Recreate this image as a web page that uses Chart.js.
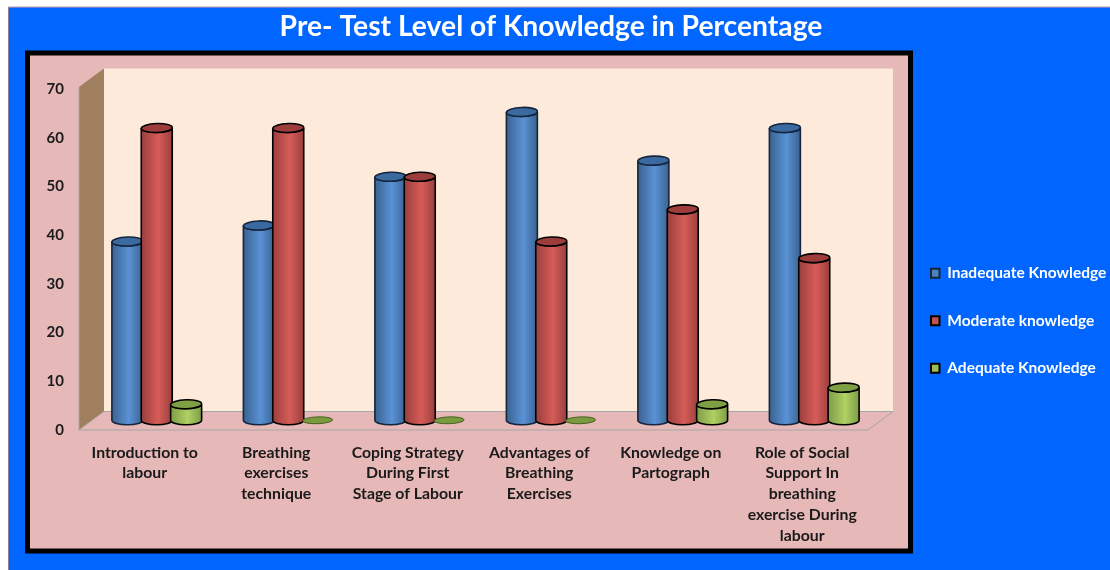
<!DOCTYPE html>
<html>
<head>
<meta charset="utf-8">
<title>Pre- Test Level of Knowledge in Percentage</title>
<style>html,body{margin:0;padding:0;background:#fff;overflow:hidden}canvas{display:block}</style>
<script src="https://cdn.jsdelivr.net/npm/chart.js@4"></script>
</head>
<body>
<canvas id="c" width="1110" height="570"></canvas>
<script>
const categories = [
  ["Introduction to","labour"],
  ["Breathing","exercises","technique"],
  ["Coping Strategy","During First","Stage of Labour"],
  ["Advantages of","Breathing","Exercises"],
  ["Knowledge on","Partograph"],
  ["Role of Social","Support In","breathing","exercise During","labour"]
];
const inadequate = [36.7, 40, 50, 63.3, 53.3, 60];
const moderate   = [60, 60, 50, 36.7, 43.3, 33.3];
const adequate   = [3.3, 0, 0, 0, 3.3, 6.7];
const titleText = "Pre- Test Level of Knowledge in Percentage";

const FONT = "Lato, 'Open Sans', sans-serif";
const depth = {x: 25, y: 18.5};    // full depth of the 3D box
const shift = {x: 12, y: -9.7};    // bars stand half way into the box
const wallRise = 2;                // walls rise slightly above the top tick
const shades = [
  {edge:'#3a6290', mid:'#5a92d6', top:'#3a6aa0', line:'#14253c'},
  {edge:'#9a3f3d', mid:'#d65c58', top:'#9c3d3b', line:'#000000'},
  {edge:'#7f9c47', mid:'#afd164', top:'#7f9f45', line:'#000000'}
];

const scenery = {
  id:'scenery',
  beforeDraw(chart){
    const {ctx, chartArea:a} = chart;
    const top=a.top-wallRise;
    ctx.save();
    ctx.fillStyle='#fff'; ctx.fillRect(0,0,1110,570);
    ctx.fillStyle='#0066ff'; ctx.fillRect(8,7,1102,563);
    ctx.fillStyle='#8f7a98'; ctx.fillRect(8,7,1,563);
    ctx.fillStyle='#c9a0a8'; ctx.fillRect(8,6.5,1102,1);
    // frame
    ctx.fillStyle='#e6b8b7'; ctx.fillRect(27,53,884,498);
    ctx.strokeStyle='#000'; ctx.lineWidth=5; ctx.strokeRect(27.5,53,883,498);
    // back wall
    ctx.fillStyle='#fdeada';
    ctx.fillRect(a.left+depth.x,top-depth.y,a.width,a.bottom-top);
    // side wall
    ctx.fillStyle='#a07f5f';
    ctx.beginPath();
    ctx.moveTo(a.left,top);ctx.lineTo(a.left+depth.x,top-depth.y);
    ctx.lineTo(a.left+depth.x,a.bottom-depth.y);ctx.lineTo(a.left,a.bottom);ctx.closePath();ctx.fill();
    // floor
    ctx.fillStyle='#e6b8b7';
    ctx.beginPath();
    ctx.moveTo(a.left,a.bottom);ctx.lineTo(a.left+depth.x,a.bottom-depth.y);
    ctx.lineTo(a.right+depth.x,a.bottom-depth.y);ctx.lineTo(a.right,a.bottom);ctx.closePath();ctx.fill();
    ctx.strokeStyle='#a6a6a6';ctx.lineWidth=1;ctx.stroke();
    ctx.beginPath();ctx.moveTo(a.left,top);ctx.lineTo(a.left,a.bottom);ctx.stroke();
    ctx.restore();
  },
  afterLayout(chart){
    const t=chart.titleBlock;
    t.right=1102;
    const l=chart.legend;
    const w=l.width,h=l.height;
    l.left=899; l.right=899+w; l.top=233.5; l.bottom=233.5+h;
    l.adjustHitBoxes();
  },
  beforeDatasetsDraw(chart){
    chart.ctx.save();
    chart.ctx.translate(shift.x,shift.y);
  },
  afterDatasetsDraw(chart){
    const {ctx}=chart;
    // cylinders are painted from the bar elements, blue first so the later series overlap it
    chart.data.datasets.forEach((ds,di)=>{
      const s=shades[di];
      chart.getDatasetMeta(di).data.forEach((bar,i)=>{
        const v=ds.data[i];
        const p=bar.getProps(['x','y','base','width'],true);
        const rx=p.width/2+0.8, ry=4.5, tilt=-0.035;
        ctx.save();
        if(v===0){
          ctx.fillStyle='#7b9a40';ctx.strokeStyle='#46601f';ctx.lineWidth=1;
          ctx.beginPath();ctx.ellipse(p.x,p.base,rx-0.5,3.4,tilt,0,Math.PI*2);ctx.fill();ctx.stroke();
          ctx.restore();return;
        }
        const g=ctx.createLinearGradient(p.x-rx,0,p.x+rx,0);
        g.addColorStop(0,s.edge);g.addColorStop(0.55,s.mid);g.addColorStop(1,s.edge);
        ctx.beginPath();
        ctx.moveTo(p.x-rx,p.y);
        ctx.lineTo(p.x-rx,p.base);
        ctx.ellipse(p.x,p.base,rx,ry,0,Math.PI,0,true);
        ctx.lineTo(p.x+rx,p.y);
        ctx.ellipse(p.x,p.y,rx,ry,0,0,Math.PI,false);
        ctx.closePath();
        ctx.fillStyle=g;ctx.fill();
        ctx.strokeStyle=s.line;ctx.lineWidth=1.6;ctx.stroke();
        ctx.beginPath();ctx.ellipse(p.x,p.y,rx,ry,tilt,0,Math.PI*2);
        ctx.fillStyle=s.top;ctx.fill();ctx.stroke();
        ctx.restore();
      });
    });
    ctx.restore();
  }
};

new Chart(document.getElementById('c'),{
  type:'bar',
  data:{labels:categories,datasets:[
    {label:'Inadequate Knowledge',data:inadequate,backgroundColor:'#4f81bd',borderColor:'#14253c',borderWidth:2},
    {label:'Moderate knowledge',data:moderate,backgroundColor:'#c0504d',borderColor:'#000',borderWidth:2},
    {label:'Adequate Knowledge',data:adequate,backgroundColor:'#9bbb59',borderColor:'#000',borderWidth:2}
  ]},
  plugins:[scenery],
  options:{
    responsive:false,animation:false,
    categoryPercentage:0.67,barPercentage:1,
    layout:{padding:{left:0,right:242,top:0,bottom:20}},
    scales:{
      x:{
        grid:{display:false,drawTicks:false},border:{display:false},
        afterFit(s){s.height=120;},
        ticks:{maxRotation:0,minRotation:0,autoSkip:false,padding:12,color:'#1a1a1a',
          font:{family:FONT,size:15.8,weight:'bold',lineHeight:1.32}}
      },
      y:{
        min:0,max:70,
        grid:{display:false,drawTicks:false},border:{display:false},
        afterFit(s){s.width=79;},
        ticks:{stepSize:10,padding:15,color:'#1a1a1a',font:{family:FONT,size:15,weight:'bold'}}
      }
    },
    plugins:{
      tooltip:{enabled:false},
      title:{display:true,text:titleText,color:'#fff',
        font:{family:FONT,size:28.25,weight:'bold',lineHeight:1.2},
        padding:{top:10,bottom:45.1}},
      legend:{position:'chartArea',align:'start',
        labels:{boxWidth:8.5,boxHeight:9,padding:32,color:'#fff',
          font:{family:FONT,size:15.5,weight:'bold'}}}
    }
  }
});
</script>
</body>
</html>
